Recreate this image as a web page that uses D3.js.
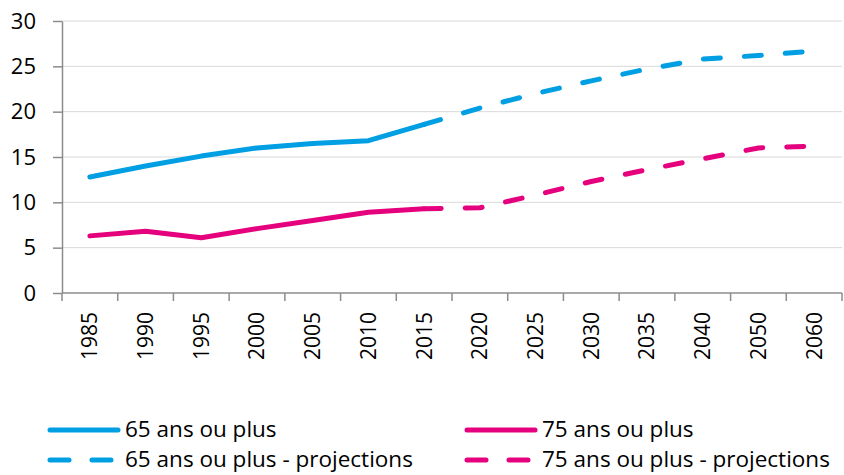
<!DOCTYPE html>
<html>
<head>
<meta charset="utf-8">
<script src="https://cdn.jsdelivr.net/npm/d3@7"></script>
<style>
  body { margin: 0; background: #fff; }
  svg { display: block; font-family: 'Open Sans', sans-serif; }
</style>
</head>
<body>
<svg id="chart"></svg>
<script>
const width = 844;
const height = 475;

const years = ['1985', '1990', '1995', '2000', '2005', '2010', '2015', '2020', '2025', '2030', '2035', '2040', '2050', '2060'];
const obsYears = ['1985', '1990', '1995', '2000', '2005', '2010', '2015'];
const projYears = ['2015', '2020', '2025', '2030', '2035', '2040', '2050', '2060'];

const obs65 = [12.8, 14.0, 15.1, 16.0, 16.5, 16.8, 18.6];
const obs75 = [6.3, 6.8, 6.1, 7.1, 8.0, 8.9, 9.3];
const proj65 = [18.6, 20.4, 22.0, 23.4, 24.7, 25.8, 26.2, 26.7];
const proj75 = [9.3, 9.4, 10.8, 12.3, 13.6, 14.8, 16.0, 16.2];

const yTicks = [0, 5, 10, 15, 20, 25, 30];

const blue = '#009fe3';
const pink = '#e5007e';

const series = [
  { name: '65 ans ou plus', x: obsYears, y: obs65, color: blue, dash: null },
  { name: '75 ans ou plus', x: obsYears, y: obs75, color: pink, dash: null },
  { name: '65 ans ou plus - projections', x: projYears, y: proj65, color: blue, dash: '17,24' },
  { name: '75 ans ou plus - projections', x: projYears, y: proj75, color: pink, dash: '17,24' }
];

const margin = { left: 62, right: 2, top: 21, bottom: 182 };

const svg = d3.select('#chart')
  .attr('width', width)
  .attr('height', height);

const x = d3.scaleBand()
  .domain(years)
  .range([margin.left, width - margin.right]);

const y = d3.scaleLinear()
  .domain([0, 30])
  .range([height - margin.bottom, margin.top]);

// gridlines
svg.append('g')
  .selectAll('line')
  .data(yTicks.slice(1))
  .enter()
  .append('line')
  .attr('x1', margin.left)
  .attr('x2', width - margin.right)
  .attr('y1', (d) => y(d))
  .attr('y2', (d) => y(d))
  .attr('stroke', '#d9d9d9')
  .attr('stroke-width', 1);

// y axis
const yAxis = svg.append('g')
  .attr('transform', `translate(${margin.left},0)`)
  .call(d3.axisLeft(y).tickValues(yTicks).tickSize(9).tickPadding(17).tickSizeOuter(0));
yAxis.selectAll('line, path').attr('stroke', '#8c8c8c').attr('stroke-width', 1.5);
yAxis.selectAll('text')
  .attr('font-size', 22)
  .attr('fill', '#000')
  .attr('font-family', "'Open Sans', sans-serif");

// x axis with ticks on band boundaries
const xAxis = svg.append('g')
  .attr('transform', `translate(0,${y(0)})`);
xAxis.append('line')
  .attr('x1', margin.left)
  .attr('x2', width - margin.right)
  .attr('stroke', '#8c8c8c')
  .attr('stroke-width', 1.5);
xAxis.selectAll('.tick')
  .data(years.concat(['end']))
  .enter()
  .append('line')
  .attr('x1', (d, i) => margin.left + i * x.step())
  .attr('x2', (d, i) => margin.left + i * x.step())
  .attr('y1', 0)
  .attr('y2', 8)
  .attr('stroke', '#8c8c8c')
  .attr('stroke-width', 1.5);
xAxis.selectAll('text')
  .data(years)
  .enter()
  .append('text')
  .attr('transform', (d) => `translate(${x(d) + x.bandwidth() / 2},19) rotate(-90)`)
  .attr('text-anchor', 'end')
  .attr('dy', '0.35em')
  .attr('font-size', 21)
  .attr('fill', '#000')
  .text((d) => d);

// lines
const line = d3.line()
  .x((d) => x(d[0]) + x.bandwidth() / 2)
  .y((d) => y(d[1]));

svg.append('g')
  .selectAll('path')
  .data(series)
  .enter()
  .append('path')
  .attr('d', (s) => line(s.x.map((yr, i) => [yr, s.y[i]])))
  .attr('fill', 'none')
  .attr('stroke', (s) => s.color)
  .attr('stroke-width', 5)
  .attr('stroke-linecap', 'round')
  .attr('stroke-linejoin', 'round')
  .attr('stroke-dasharray', (s) => s.dash);

// legend
const legendPos = [
  { lx: 50, ly: 430 },
  { lx: 467, ly: 430 },
  { lx: 50, ly: 460 },
  { lx: 467, ly: 460 }
];

const legend = svg.append('g')
  .selectAll('g')
  .data(series)
  .enter()
  .append('g')
  .attr('transform', (s, i) => `translate(${legendPos[i].lx},${legendPos[i].ly})`);

legend.append('line')
  .attr('x1', 0)
  .attr('x2', (s, i) => (i < 2 ? 68 : 62))
  .attr('stroke', (s) => s.color)
  .attr('stroke-width', 5)
  .attr('stroke-linecap', 'round')
  .attr('stroke-dasharray', (s) => (s.dash ? '19,23' : null));

legend.append('text')
  .attr('x', 75)
  .attr('dy', '0.33em')
  .attr('font-size', 22.5)
  .attr('fill', '#000')
  .text((s) => s.name);
</script>
</body>
</html>
